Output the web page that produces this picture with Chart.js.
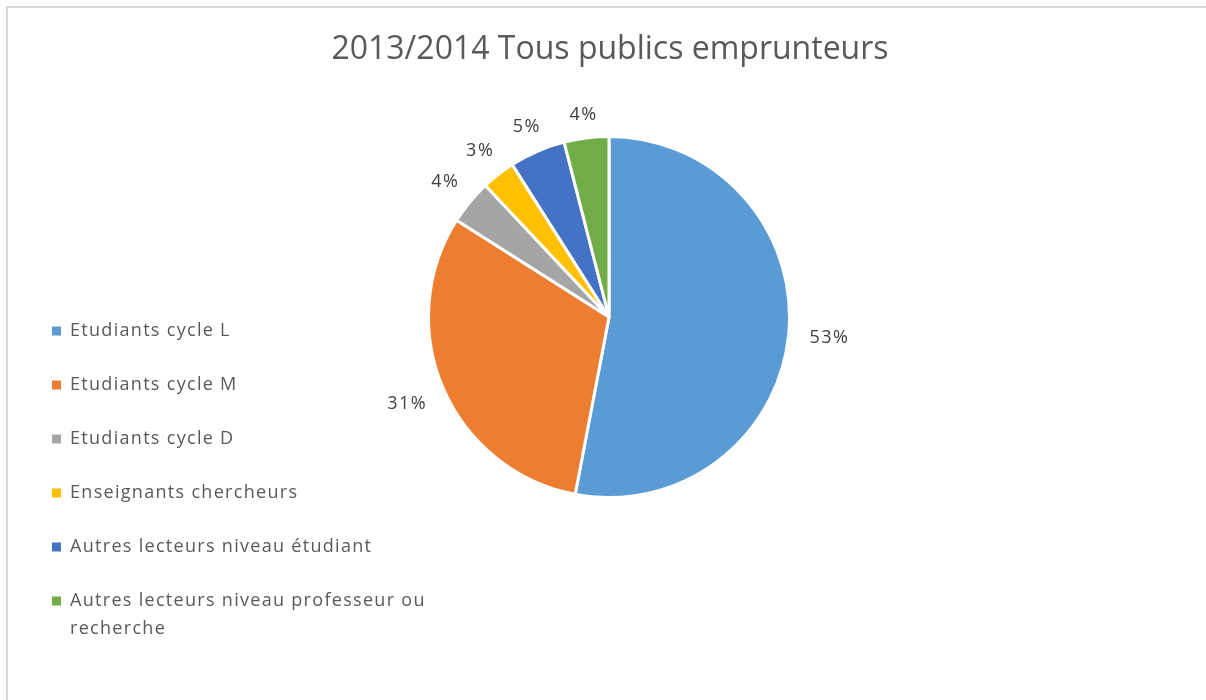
<!DOCTYPE html>
<html>
<head>
<meta charset="utf-8">
<script src="https://cdn.jsdelivr.net/npm/chart.js@4/dist/chart.umd.min.js"></script>
<style>
  html, body { margin: 0; padding: 0; background: #ffffff; }
  #wrap { width: 1206px; height: 700px; }
</style>
</head>
<body>
<div id="wrap"><canvas id="pieChart" width="1206" height="700"></canvas></div>
<script>
var chartTitle = '2013/2014 Tous publics emprunteurs';
var categories = ['Etudiants cycle L', 'Etudiants cycle M', 'Etudiants cycle D', 'Enseignants chercheurs', 'Autres lecteurs niveau étudiant', 'Autres lecteurs niveau professeur ou recherche'];
var shares = [53, 31, 4, 3, 5, 4];
var sliceColors = ['#5B9BD5', '#ED7D31', '#A5A5A5', '#FFC000', '#4472C4', '#70AD47'];

var FONT = '"Open Sans", Lato, sans-serif';

// light frame + title
const framePlugin = {
    id: 'frame',
    beforeDraw(chart) {
        const c = chart.ctx;
        c.save();
        c.fillStyle = '#ffffff';
        c.fillRect(0, 0, chart.width, chart.height);
        c.strokeStyle = '#d9d9d9';
        c.lineWidth = 2;
        c.beginPath();
        c.moveTo(7, chart.height + 5);
        c.lineTo(7, 7);
        c.lineTo(chart.width + 5, 7);
        c.stroke();
        c.fillStyle = '#595959';
        c.font = '32px ' + FONT;
        c.textAlign = 'center';
        c.textBaseline = 'middle';
        c.fillText(chartTitle, 610, 50);
        c.restore();
    }
};

// percentage labels just outside each slice
const pctLabels = {
    id: 'pctLabels',
    afterDatasetsDraw(chart) {
        const c = chart.ctx;
        const meta = chart.getDatasetMeta(0);
        const data = chart.data.datasets[0].data;
        c.save();
        c.font = '18px ' + FONT;
        c.letterSpacing = '1.5px';
        c.fillStyle = '#404040';
        c.textAlign = 'center';
        c.textBaseline = 'middle';
        meta.data.forEach(function (arc, i) {
            const p = arc.getProps(['x', 'y', 'startAngle', 'endAngle', 'outerRadius'], true);
            const mid = (p.startAngle + p.endAngle) / 2;
            const dx = Math.cos(mid), dy = Math.sin(mid);
            const txt = data[i] + '%';
            const w = c.measureText(txt).width;
            const d = p.outerRadius + 21 + Math.abs(dx) * w / 2;
            c.fillText(txt, p.x + dx * d, p.y + dy * d);
        });
        c.restore();
    }
};

// legend on the left, long names wrapped
const sideLegend = {
    id: 'sideLegend',
    afterDraw(chart) {
        const c = chart.ctx;
        const labels = chart.data.labels;
        const colors = chart.data.datasets[0].backgroundColor;
        let y = 331;
        c.save();
        c.font = '18px ' + FONT;
        c.letterSpacing = '1.3px';
        c.textBaseline = 'middle';
        labels.forEach(function (name, i) {
            c.fillStyle = colors[i];
            c.fillRect(52, y - 4.5, 9, 9);
            c.fillStyle = '#595959';
            const words = name.split(' ');
            const lines = [];
            let line = '';
            words.forEach(function (wd) {
                const test = line ? line + ' ' + wd : wd;
                if (c.measureText(test).width > 380 && line) {
                    lines.push(line);
                    line = wd;
                } else {
                    line = test;
                }
            });
            lines.push(line);
            lines.forEach(function (ln, k) {
                c.fillText(ln, 70, y + k * 28);
            });
            y += 54;
        });
        c.restore();
    }
};

const ctx = document.getElementById('pieChart').getContext('2d');
const pieChart = new Chart(ctx, {
    type: 'pie',
    data: {
        labels: categories,
        datasets: [{
            data: shares,
            backgroundColor: sliceColors,
            borderColor: '#ffffff',
            borderWidth: 3
        }]
    },
    options: {
        responsive: false,
        animation: false,
        layout: {
            padding: { top: 135, bottom: 201, left: 427, right: 415 }
        },
        plugins: {
            legend: { display: false },
            title: { display: false },
            tooltip: { enabled: false }
        }
    },
    plugins: [framePlugin, pctLabels, sideLegend]
});
</script>
</body>
</html>
